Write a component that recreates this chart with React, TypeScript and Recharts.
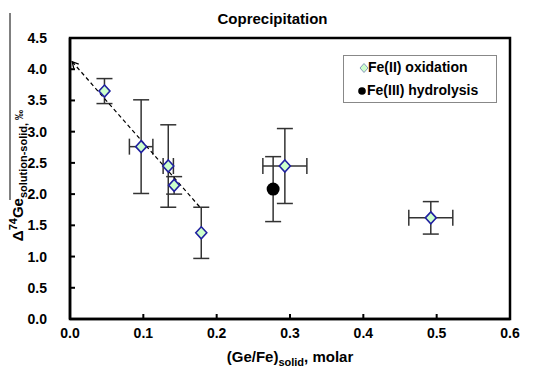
import React from "react";
import {
  ScatterChart,
  Scatter,
  XAxis,
  YAxis,
  ErrorBar,
  ReferenceArea,
  Legend,
  Label,
} from "recharts";

const FONT = '"Liberation Sans", Arial, sans-serif';

// Fe(II) oxidation points
const fe2X = [0.047, 0.097, 0.134, 0.142, 0.179, 0.293, 0.492];
const fe2Y = [3.65, 2.76, 2.45, 2.14, 1.38, 2.45, 1.62];
const fe2XErr = [null, 0.016, 0.007, null, null, 0.03, 0.03];
const fe2YErr = [0.2, 0.75, 0.66, 0.14, 0.41, 0.6, 0.26];

// Fe(III) hydrolysis point
const fe3X = [0.277];
const fe3Y = [2.08];
const fe3YErr = [0.52];

// dashed trend arrow (tip first)
const trendX = [0.003, 0.178];
const trendY = [4.12, 1.78];

const xTicks = [0, 0.1, 0.2, 0.3, 0.4, 0.5, 0.6];
const yTicks = [0, 0.5, 1, 1.5, 2, 2.5, 3, 3.5, 4, 4.5];

const fe2Data = fe2X.map((x, i) => ({ x, y: fe2Y[i], ex: fe2XErr[i], ey: fe2YErr[i] }));
const fe3Data = fe3X.map((x, i) => ({ x, y: fe3Y[i], ey: fe3YErr[i] }));
const trendData = trendX.map((x, i) => ({ x, y: trendY[i], tip: i === 0 }));

const Diamond = (props: any) => {
  const { cx, cy } = props;
  if (cx == null || cy == null) return <g />;
  return (
    <path
      d={`M${cx},${cy - 6} L${cx + 5.5},${cy} L${cx},${cy + 6} L${cx - 5.5},${cy} Z`}
      fill="#ccffcc"
      stroke="#2020a0"
      strokeWidth={1.6}
    />
  );
};

const Dot = (props: any) => {
  const { cx, cy } = props;
  if (cx == null || cy == null) return <g />;
  return <circle cx={cx} cy={cy} r={6.5} fill="#000" />;
};

// open arrow head on the upper-left end of the trend line
const ArrowTip = (props: any) => {
  const { cx, cy, payload } = props;
  if (!payload || !payload.tip) return <g />;
  const back = (48.8 * Math.PI) / 180;
  const spread = (28 * Math.PI) / 180;
  const len = 7;
  const a1 = back - spread;
  const a2 = back + spread;
  return (
    <path
      d={`M${cx + len * Math.cos(a1)},${cy + len * Math.sin(a1)} L${cx},${cy} L${cx + len * Math.cos(a2)},${cy + len * Math.sin(a2)}`}
      fill="none"
      stroke="#000"
      strokeWidth={1.3}
    />
  );
};

const YTitle = (props: any) => {
  const vb = props.viewBox || { x: 0, y: 38, width: 70, height: 281 };
  const bx = vb.x + 23;
  const by = vb.y + vb.height / 2 - 3;
  return (
    <g>
      <line x1={vb.x + 10} x2={vb.x + 10} y1={vb.y - 25} y2={vb.y + 162} stroke="#000" strokeWidth={1} />
      <text
        x={bx}
        y={by}
        transform={`rotate(-90 ${bx} ${by})`}
        textAnchor="middle"
        fontFamily={FONT}
        fontWeight="bold"
        fontSize={15}
        fill="#000"
      >
        <tspan>Δ</tspan>
        <tspan fontSize={11} dy={-6}>74</tspan>
        <tspan dy={6}>Ge</tspan>
        <tspan fontSize={11} dy={4}>solution-solid, </tspan>
        <tspan fontSize={10} dy={-4}>‰</tspan>
      </text>
    </g>
  );
};

const XTitle = (props: any) => {
  const vb = props.viewBox || { x: 70, y: 319, width: 440, height: 61 };
  return (
    <text
      x={vb.x + vb.width / 2}
      y={vb.y + 43}
      textAnchor="middle"
      fontFamily={FONT}
      fontWeight="bold"
      fontSize={15}
      fill="#000"
    >
      <tspan>(Ge/Fe)</tspan>
      <tspan fontSize={11} dy={4}>solid</tspan>
      <tspan dy={-4}>, molar</tspan>
    </text>
  );
};

const LegendBox = () => (
  <div
    style={{
      position: "relative",
      width: 154,
      height: 48,
      boxSizing: "border-box",
      border: "1px solid #888",
      background: "#fff",
      fontFamily: FONT,
      fontWeight: "bold",
      fontSize: 14,
      color: "#000",
    }}
  >
    <svg width={12} height={12} style={{ position: "absolute", left: 14, top: 6 }}>
      <path d="M6,1.5 L10,6 L6,10.5 L2,6 Z" fill="#ccffcc" stroke="#8899bb" strokeWidth={1} />
    </svg>
    <span style={{ position: "absolute", left: 24, top: 3, lineHeight: "16px", whiteSpace: "nowrap" }}>
      Fe(II) oxidation
    </span>
    <svg width={12} height={12} style={{ position: "absolute", left: 12, top: 29 }}>
      <circle cx={6} cy={6} r={3.8} fill="#000" />
    </svg>
    <span style={{ position: "absolute", left: 23, top: 26, lineHeight: "16px", whiteSpace: "nowrap" }}>
      Fe(III) hydrolysis
    </span>
  </div>
);

const tickStyle = { fill: "#000", fontSize: 14, fontWeight: "bold", fontFamily: FONT };

export default function App() {
  return (
    <div style={{ position: "absolute", left: 0, top: 0, width: 542, height: 380, background: "#fff" }}>
      <div
        style={{
          position: "absolute",
          left: 0,
          width: 545,
          top: 11,
          textAlign: "center",
          fontFamily: FONT,
          fontWeight: "bold",
          fontSize: 15,
          lineHeight: "15px",
          color: "#000",
        }}
      >
        Coprecipitation
      </div>
      <ScatterChart width={542} height={380} margin={{ top: 38, right: 32, bottom: 0, left: 0 }}>
        <XAxis
          type="number"
          dataKey="x"
          domain={[0, 0.6]}
          ticks={xTicks}
          tickFormatter={(v: number) => v.toFixed(1)}
          tick={tickStyle}
          tickSize={-5}
          tickMargin={14}
          axisLine={{ stroke: "#000", strokeWidth: 2.5 }}
          tickLine={{ stroke: "#000", strokeWidth: 2 }}
          height={61}
          allowDataOverflow
        >
          <Label content={<XTitle />} position="insideBottom" />
        </XAxis>
        <YAxis
          type="number"
          dataKey="y"
          domain={[0, 4.5]}
          ticks={yTicks}
          tickFormatter={(v: number) => v.toFixed(1)}
          tick={tickStyle}
          tickSize={-5}
          tickMargin={28}
          axisLine={{ stroke: "#000", strokeWidth: 2.5 }}
          tickLine={{ stroke: "#000", strokeWidth: 2 }}
          width={70}
          allowDataOverflow
        >
          <Label content={<YTitle />} position="insideLeft" />
        </YAxis>
        <ReferenceArea
          x1={0}
          x2={0.6}
          y1={0}
          y2={4.5}
          fill="none"
          fillOpacity={0}
          stroke="#000"
          strokeWidth={2.5}
          ifOverflow="visible"
        />
        <Scatter
          name="trend"
          data={trendData}
          line={{ stroke: "#000", strokeWidth: 1.2, strokeDasharray: "4 3" }}
          lineType="joint"
          shape={<ArrowTip />}
          isAnimationActive={false}
          legendType="none"
        />
        <Scatter name="Fe(III) hydrolysis" data={fe3Data} shape={<Dot />} isAnimationActive={false}>
          <ErrorBar dataKey="ey" direction="y" width={8} stroke="#333" strokeWidth={1.5} />
        </Scatter>
        <Scatter name="Fe(II) oxidation" data={fe2Data} shape={<Diamond />} isAnimationActive={false}>
          <ErrorBar dataKey="ey" direction="y" width={8} stroke="#333" strokeWidth={1.5} />
          <ErrorBar dataKey="ex" direction="x" width={8} stroke="#333" strokeWidth={1.5} />
        </Scatter>
        <Legend
          layout="horizontal"
          align="center"
          verticalAlign="middle"
          content={<LegendBox />}
          wrapperStyle={{ left: 343, top: 55, width: 154, height: 48 }}
        />
      </ScatterChart>
    </div>
  );
}
